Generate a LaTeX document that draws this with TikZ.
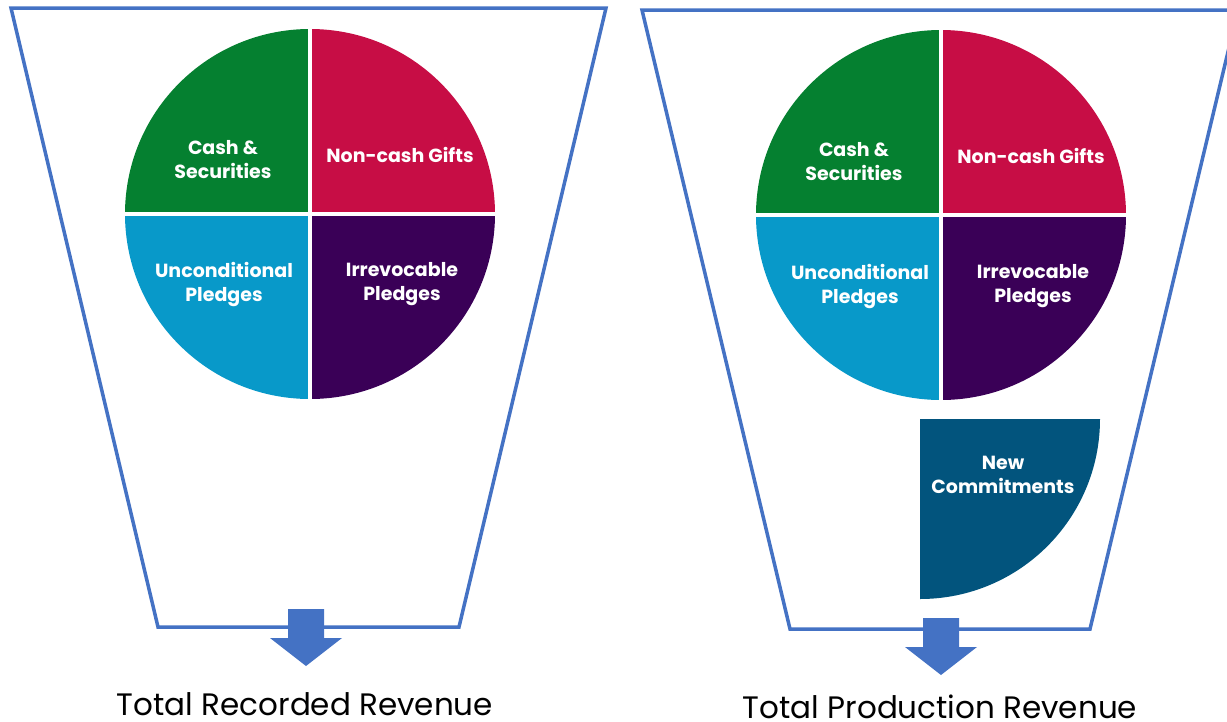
\documentclass[tikz,border=0pt]{standalone}
\usepackage{fontspec}
\setmainfont{Poppins}
\usetikzlibrary{calc}
\definecolor{funnel}{HTML}{4472C4}
\definecolor{cgreen}{HTML}{058030}
\definecolor{cred}{HTML}{C70D45}
\definecolor{cblue}{HTML}{0899C9}
\definecolor{cpurple}{HTML}{3A0057}
\definecolor{cteal}{HTML}{02547D}
\begin{document}
\begin{tikzpicture}[x=1pt,y=-1pt,
  funnelline/.style={draw=funnel,line width=3.5pt,line join=miter},
  blockarrow/.style={fill=funnel},
  pielabel/.style={text=white,font=\fontsize{19}{24}\selectfont\bfseries,align=center},
  bottomlabel/.style={text=black,font=\fontsize{31}{36}\selectfont,anchor=base,inner sep=0pt,text depth=0pt}]
\useasboundingbox (0,0) rectangle (1227,721);
\begin{scope}
\clip (0,0) rectangle (1227,721);
% left funnel
\draw[funnelline] (11,8) -- (606,8) -- (459,627) -- (158,627) -- cycle;
% right funnel
\draw[funnelline] (642,10) -- (1238,10) -- (1090,629) -- (790,629) -- cycle;
\end{scope}
% left pie
\coordinate (L) at (310,214);
\fill[cgreen] (L) -- ++(-185,0) arc (180:270:185) -- cycle;
\fill[cred] (L) -- ++(0,-185) arc (270:360:185) -- cycle;
\fill[cblue] (L) -- ++(0,185) arc (90:180:185) -- cycle;
\fill[cpurple] (L) -- ++(185,0) arc (0:90:185) -- cycle;
\draw[white,line width=4pt] ($(L)+(-186,0)$) -- ($(L)+(186,0)$);
\draw[white,line width=4pt] ($(L)+(0,-186)$) -- ($(L)+(0,186)$);
\node[pielabel] (l1) at (223,160) {Cash \&\\Securities};
\node[pielabel] (l2) at (400,155) {Non-cash Gifts};
\node[pielabel] (l3) at (224,284) {Unconditional\\Pledges};
\node[pielabel] (l4) at (402,284) {Irrevocable\\Pledges};
% right pie
\coordinate (R) at (941,215);
\fill[cgreen] (R) -- ++(-185,0) arc (180:270:185) -- cycle;
\fill[cred] (R) -- ++(0,-185) arc (270:360:185) -- cycle;
\fill[cblue] (R) -- ++(0,185) arc (90:180:185) -- cycle;
\fill[cpurple] (R) -- ++(185,0) arc (0:90:185) -- cycle;
\draw[white,line width=4pt] ($(R)+(-186,0)$) -- ($(R)+(186,0)$);
\draw[white,line width=4pt] ($(R)+(0,-186)$) -- ($(R)+(0,186)$);
\node[pielabel] (r1) at (854,162) {Cash \&\\Securities};
\node[pielabel] (r2) at (1031,156) {Non-cash Gifts};
\node[pielabel] (r3) at (860,286) {Unconditional\\Pledges};
\node[pielabel] (r4) at (1033,286) {Irrevocable\\Pledges};
% new commitments
\fill[cteal] (920,419) -- (1100,419) arc (0:90:180) -- cycle;
\node[pielabel] (nc) at (1003,475) {New\\Commitments};
% arrows
\fill[blockarrow] (288,609) -- (324,609) -- (324,638) -- (342,638) -- (306,666) -- (270,638) -- (288,638) -- cycle;
\fill[blockarrow] (923,618) -- (959,618) -- (959,647) -- (977,647) -- (941,675) -- (905,647) -- (923,647) -- cycle;
% bottom labels
\node[bottomlabel] (t1) at (305,715) {Total Recorded Revenue};
\node[bottomlabel] (t2) at (940,718) {Total Production Revenue};
\end{tikzpicture}
\end{document}
